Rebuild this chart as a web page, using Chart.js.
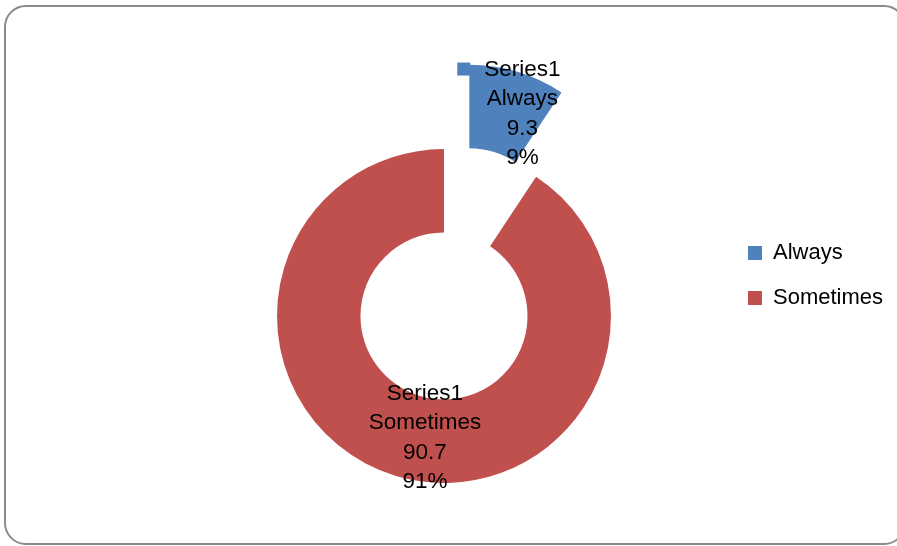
<!DOCTYPE html>
<html>
<head>
<meta charset="utf-8">
<script src="https://cdn.jsdelivr.net/npm/chart.js@4.4.1/dist/chart.umd.min.js"></script>
<style>
  html, body { margin: 0; padding: 0; background: #fff; overflow: hidden; }
  #frame { position: absolute; left: 4px; top: 5px; width: 898px; height: 536px;
           border: 2px solid #8a8a8a; border-radius: 22px; }
  #wrap { position: absolute; left: 0; top: 0; width: 897px; height: 546px; }
</style>
</head>
<body>
<div id="frame"></div>
<div id="wrap"><canvas id="myChart"></canvas></div>
<script>
// data
const seriesName = "Series1";
const categories = ["Always", "Sometimes"];
const values = [9.3, 90.7];
const colors = ["#4F81BD", "#C0504D"];

// look
const EXPLODE = 88;        // pull-out of the first slice, px
const LINE_H = 29.5;
const LABEL_SHIFT_X = 17;
const LABEL_SHIFT_Y = 2;
const FONT = '"Liberation Sans", Arial, sans-serif';

// pull the "Always" slice out of the ring
const explodePlugin = {
  id: "explode",
  afterDatasetsUpdate(chart) {
    const arc = chart.getDatasetMeta(0).data[0];
    const mid = (arc.startAngle + arc.endAngle) / 2;
    arc.x += Math.cos(mid) * EXPLODE;
    arc.y += Math.sin(mid) * EXPLODE;
  },
};

// excel style data labels
const labelPlugin = {
  id: "sliceLabels",
  afterDatasetsDraw(chart) {
    const ctx = chart.ctx;
    const meta = chart.getDatasetMeta(0);
    const total = values.reduce((a, b) => a + b, 0);
    ctx.save();
    ctx.font = "22.5px " + FONT;
    ctx.textAlign = "center";
    ctx.textBaseline = "middle";
    meta.data.forEach((arc, i) => {
      const pos = arc.tooltipPosition();
      const lines = [
        seriesName,
        categories[i],
        String(values[i]),
        Math.round((values[i] / total) * 100) + "%",
      ];
      const cx = pos.x + LABEL_SHIFT_X;
      const top = pos.y + LABEL_SHIFT_Y - ((lines.length - 1) * LINE_H) / 2;
      // legend key in front of the first line
      const w0 = ctx.measureText(lines[0]).width;
      ctx.fillStyle = colors[i];
      ctx.fillRect(cx - w0 / 2 - 27, top - 7, 13, 13);
      ctx.fillStyle = "#000";
      lines.forEach((t, k) => ctx.fillText(t, cx, top + k * LINE_H));
    });
    ctx.restore();
  },
};

const config = {
  type: "doughnut",
  data: {
    labels: categories,
    datasets: [
      {
        label: seriesName,
        data: values,
        backgroundColor: colors,
        borderWidth: 0,
        clip: false,
      },
    ],
  },
  options: {
    responsive: true,
    maintainAspectRatio: false,
    animation: false,
    radius: 167,
    cutout: "50%",
    layout: { padding: { left: 163, right: 4, top: 219, bottom: 133 } },
    plugins: {
      tooltip: { enabled: false },
      legend: {
        position: "right",
        align: "start",
        labels: {
          color: "#000",
          font: { family: FONT, size: 22 },
          boxWidth: 14,
          boxHeight: 14,
          padding: 23,
        },
      },
    },
  },
  plugins: [explodePlugin, labelPlugin],
};

const myChart = new Chart(document.getElementById("myChart"), config);
</script>
</body>
</html>
